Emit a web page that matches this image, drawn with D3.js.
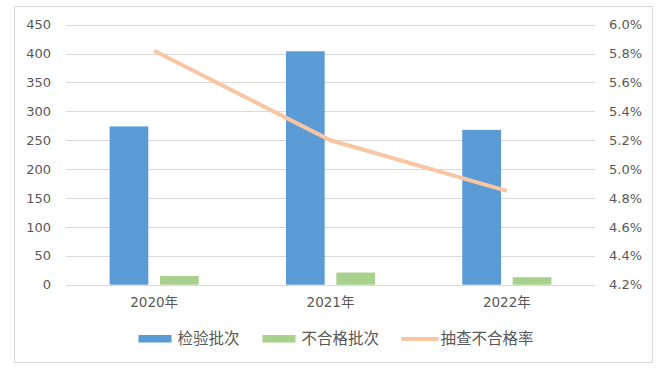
<!DOCTYPE html>
<html><head><meta charset="utf-8">
<script src="https://cdn.jsdelivr.net/npm/d3@7"></script>
<style>
body{margin:0;background:#fff;}
text{font-family:"DejaVu Sans","Noto Sans CJK SC",sans-serif;fill:#595959;}
</style></head>
<body><svg id="c" width="660" height="371"></svg>
<script>
const categories = ["2020年","2021年","2022年"];
const series = ["检验批次","不合格批次"];
const inspected = [274, 404, 268];
const failed = [15, 21, 13];
const rateName = "抽查不合格率";
const rate = [0.0582, 0.0520, 0.0485];
const leftTicks = [0,50,100,150,200,250,300,350,400,450];
const rightTicks = [0.042,0.044,0.046,0.048,0.050,0.052,0.054,0.056,0.058,0.060];
const colors = {"检验批次":"#5b9bd5","不合格批次":"#a9d18e"};
const lineColor = "#f8c6a2";

const svg = d3.select("#c");
const L = 66, R = 595, T = 24.7, B = 284.7;

svg.append("rect").attr("x",14.5).attr("y",6.5).attr("width",638).attr("height",356)
  .attr("fill","#fff").attr("stroke","#d9d9d9");

const x0 = d3.scaleBand().domain(categories).range([L,R]).padding(0);
const x1 = d3.scaleBand().domain(series).range([0,x0.bandwidth()]).paddingInner(0.232).paddingOuter(0.865);
const yL = d3.scaleLinear().domain([0,450]).range([B,T]);
const yR = d3.scaleLinear().domain([0.042,0.060]).range([B,T]);

// gridlines
svg.append("g").selectAll("line").data(leftTicks).join("line")
  .attr("x1",L).attr("x2",R).attr("y1",d=>Math.round(yL(d))+0.5).attr("y2",d=>Math.round(yL(d))+0.5)
  .attr("stroke","#d9d9d9").attr("stroke-width",1);

// left axis
const ga = svg.append("g").attr("transform",`translate(${L-15},0)`)
  .call(d3.axisLeft(yL).tickValues(leftTicks).tickSize(0).tickPadding(0));
ga.select(".domain").remove();
ga.selectAll("text").style("font-size","13px").style("font-family","'DejaVu Sans'").attr("fill","#595959");

// right axis
const gr = svg.append("g").attr("transform",`translate(${R+14},0)`)
  .call(d3.axisRight(yR).tickValues(rightTicks).tickFormat(d3.format(".1%")).tickSize(0).tickPadding(0));
gr.select(".domain").remove();
gr.selectAll("text").style("font-size","13px").style("font-family","'DejaVu Sans'").attr("fill","#595959");

// bars
const data = categories.map((c,i)=>({c, vals:[{s:series[0],v:inspected[i]},{s:series[1],v:failed[i]}]}));
svg.append("g").selectAll("g").data(data).join("g")
  .attr("transform",d=>`translate(${x0(d.c)},0)`)
  .selectAll("rect").data(d=>d.vals).join("rect")
  .attr("x",d=>x1(d.s)).attr("width",x1.bandwidth())
  .attr("y",d=>yL(d.v)).attr("height",d=>B-yL(d.v))
  .attr("fill",d=>colors[d.s]);

// line
const line = d3.line().x((d,i)=>x0(categories[i])+x0.bandwidth()/2).y(d=>yR(d));
svg.append("path").datum(rate).attr("d",line).attr("fill","none")
  .attr("stroke",lineColor).attr("stroke-width",4);

// x labels
const gx = svg.append("g").attr("transform",`translate(0,${B})`)
  .call(d3.axisBottom(x0).tickSize(0).tickPadding(13));
gx.select(".domain").remove();
gx.selectAll("text").style("font-size","13.5px").style("font-family","'DejaVu Sans','Noto Sans CJK SC'").attr("fill","#595959");

// legend
const lg = svg.append("g");
const ly = 339;
const items = [
  {name:series[0], type:"rect", color:colors[series[0]], x:138.5},
  {name:series[1], type:"rect", color:colors[series[1]], x:262.5},
  {name:rateName, type:"line", color:lineColor, x:401.5}
];
items.forEach(it=>{
  if(it.type==="rect"){
    lg.append("rect").attr("x",it.x).attr("y",ly-4).attr("width",33).attr("height",7.5).attr("fill",it.color);
  } else {
    lg.append("line").attr("x1",it.x+1.5).attr("x2",it.x+35.5).attr("y1",ly).attr("y2",ly)
      .attr("stroke",it.color).attr("stroke-width",4).attr("stroke-linecap","round");
  }
  lg.append("text").attr("x",it.x+39).attr("y",ly).attr("dy","0.35em")
    .style("font-size","15.5px").text(it.name);
});
</script></body></html>
